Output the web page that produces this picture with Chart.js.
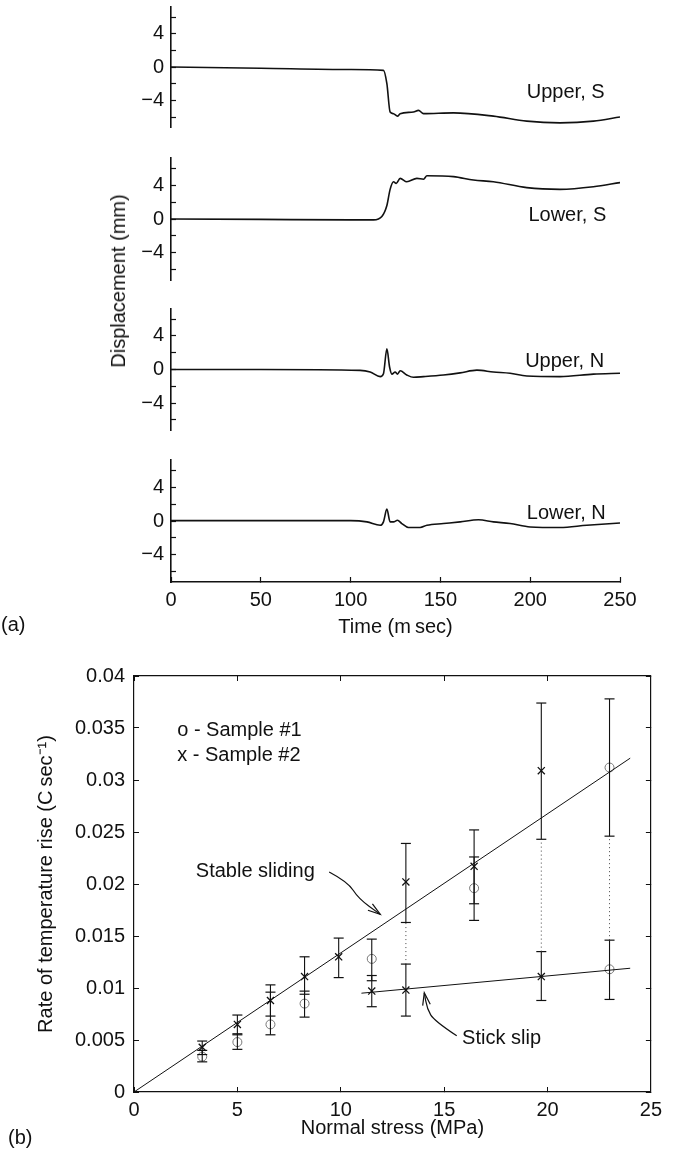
<!DOCTYPE html>
<html>
<head>
<meta charset="utf-8">
<script src="https://cdn.jsdelivr.net/npm/chart.js@4/dist/chart.umd.min.js"></script>
<style>
html,body{margin:0;padding:0;background:#fff;}
#wrap{position:relative;width:673px;height:1151px;overflow:hidden;font-family:"Liberation Sans",Arial,Helvetica,sans-serif;color:#111;}
canvas{position:absolute;left:0;}
.lbl{position:absolute;font-size:20px;line-height:20px;white-space:nowrap;}
#ylabA{left:118px;top:281px;transform:translate(-50%,-50%) rotate(-90deg);}
</style>
</head>
<body>
<div id="wrap">
  <canvas id="a1" width="673" height="137" style="top:0px"></canvas>
  <canvas id="a2" width="673" height="142" style="top:148px"></canvas>
  <canvas id="a3" width="673" height="141" style="top:299px"></canvas>
  <canvas id="a4" width="673" height="200" style="top:450px"></canvas>
  <canvas id="b" width="673" height="501" style="top:650px"></canvas>
  <div class="lbl" id="ylabA">Displacement (mm)</div>
  <div class="lbl" style="left:1px;top:614px;">(a)</div>
  <div class="lbl" style="left:8px;top:1127px;">(b)</div>
</div>
<script>
// ---------- Panel (a): displacement traces ----------
const timeTicks = [0, 50, 100, 150, 200, 250];
const dispTicks = [-6, -4, -2, 0, 2, 4, 6];
const dispLabeled = [-4, 0, 4];

const timeUpperS = [0, 50, 100, 118.3, 120.2, 122.0, 123.9, 126.1, 127.6, 135.0, 137.8, 140.6, 157.3, 179.5, 198.1, 216.6, 235.2, 250];
const dispUpperS = [0, -0.15, -0.3, -0.4, -2.0, -5.4, -5.6, -5.9, -5.6, -5.4, -5.2, -5.6, -5.5, -5.9, -6.5, -6.7, -6.5, -6.0];

const timeLowerS = [0, 50, 100, 112.8, 117.4, 120.2, 122.0, 123.9, 125.4, 127.6, 131.3, 136.9, 140.6, 142.5, 157.3, 168.4, 179.5, 198.1, 216.6, 235.2, 250];
const dispLowerS = [0, -0.05, -0.1, -0.1, 0.3, 1.6, 3.5, 4.4, 4.2, 4.8, 4.4, 4.8, 4.7, 5.1, 5.0, 4.6, 4.4, 3.7, 3.5, 3.8, 4.3];

const timeUpperN = [0, 50, 105.3, 110.9, 116.5, 118.3, 120.2, 121.7, 123.0, 124.8, 126.1, 127.6, 131.3, 135.0, 140.6, 151.7, 161.0, 170.3, 179.5, 188.8, 198.1, 216.6, 235.2, 250];
const dispUpperN = [0, 0, -0.1, -0.3, -0.85, -0.5, 2.45, 0.3, -0.55, -0.3, -0.55, -0.15, -0.65, -0.93, -0.85, -0.65, -0.4, -0.08, -0.3, -0.45, -0.78, -0.85, -0.55, -0.45];

const timeLowerN = [0, 50, 100, 109.1, 116.5, 118.3, 120.2, 122.0, 123.9, 126.1, 128.5, 132.2, 138.7, 142.5, 151.7, 161.0, 171.2, 179.5, 188.8, 200, 216.6, 231.5, 250];
const dispLowerN = [0.05, 0.05, 0.05, -0.1, -0.5, -0.1, 1.4, -0.1, -0.1, 0.08, -0.3, -0.77, -0.77, -0.5, -0.3, -0.1, 0.15, -0.1, -0.3, -0.7, -0.77, -0.5, -0.23];

const traceNames = ['Upper, S', 'Lower, S', 'Upper, N', 'Lower, N'];
const traceLabelX = [198.1, 199, 197.2, 198.1];
const traceLabelY = [-3.0, 0.47, 0.9, 0.94];

// ---------- Panel (b): temperature rise ----------
const stressTicks = [0, 5, 10, 15, 20, 25];
const rateTicks = [0, 0.005, 0.01, 0.015, 0.02, 0.025, 0.03, 0.035, 0.04];

const stress2 = [3.3, 5.0, 6.6, 8.25, 9.9, 11.5, 13.15, 13.15, 16.45, 19.7, 19.7];
const rate2   = [0.0043, 0.0065, 0.0088, 0.0111, 0.0130, 0.0097, 0.0202, 0.0098, 0.0217, 0.0309, 0.0111];
const low2    = [0.0036, 0.0055, 0.0073, 0.0094, 0.0110, 0.0082, 0.0163, 0.0073, 0.0181, 0.0243, 0.0088];
const high2   = [0.0049, 0.0074, 0.0103, 0.0130, 0.0148, 0.0112, 0.0239, 0.0123, 0.0252, 0.0374, 0.0135];

const stress1 = [3.3, 5.0, 6.6, 8.25, 11.5, 16.45, 23.0, 23.0];
const rate1   = [0.0034, 0.0048, 0.0065, 0.0085, 0.0128, 0.0196, 0.0312, 0.0118];
const low1    = [0.0029, 0.0041, 0.0055, 0.0072, 0.0107, 0.0165, 0.0246, 0.0089];
const high1   = [0.0040, 0.0056, 0.0096, 0.0097, 0.0147, 0.0226, 0.0378, 0.0146];

const dottedX      = [13.15, 19.7, 23.0];
const dottedTop    = [0.0163, 0.0243, 0.0246];
const dottedBottom = [0.0123, 0.0135, 0.0146];

const stableFitX = [0, 24];
const stableFitY = [0, 0.0321];
const stickFitX  = [11.0, 24];
const stickFitY  = [0.0095, 0.0119];

const stableArrowX = [9.44, 10.34, 10.86, 11.91];
const stableArrowY = [0.02115, 0.0202, 0.01859, 0.01708];
const stickArrowX  = [15.61, 14.52, 14.18, 14.04];
const stickArrowY  = [0.0054, 0.00684, 0.00799, 0.00954];

const noteTexts = ['o - Sample #1', 'x - Sample #2', 'Stable sliding', 'Stick slip'];
const noteX = [2.09, 2.09, 2.99, 15.87];
const noteY = [0.03477, 0.03239, 0.02122, 0.00515];

// ---------- helpers ----------
const INK = '#111';
const FAMILY = "'Liberation Sans', Arial, Helvetica, sans-serif";
Chart.defaults.font.family = FAMILY;
Chart.defaults.font.size = 20;
Chart.defaults.color = INK;
Chart.defaults.animation = false;

const toPts = (xs, ys) => xs.map((v, i) => ({x: v, y: ys[i]}));
const segs = (xs, lo, hi) => {
  const out = [];
  xs.forEach((v, i) => { out.push({x: v, y: lo[i]}, {x: v, y: hi[i]}, {x: v, y: null}); });
  return out;
};
const caps = (xs, lo, hi) => {
  const out = [];
  xs.forEach((v, i) => { out.push({x: v, y: lo[i]}, {x: v, y: hi[i]}); });
  return out;
};

const annotate = {
  id: 'annotate',
  afterDatasetsDraw(chart, args, opts) {
    const ctx = chart.ctx, xs = chart.scales.x, ys = chart.scales.y;
    ctx.save();
    (opts.arrows || []).forEach(a => {
      const p = a.xs.map((v, i) => [xs.getPixelForValue(v), ys.getPixelForValue(a.ys[i])]);
      ctx.strokeStyle = INK; ctx.lineWidth = 1.2;
      ctx.beginPath(); ctx.moveTo(p[0][0], p[0][1]);
      for (let i = 1; i < p.length - 1; i++) {
        const mx = (p[i][0] + p[i + 1][0]) / 2, my = (p[i][1] + p[i + 1][1]) / 2;
        ctx.quadraticCurveTo(p[i][0], p[i][1], mx, my);
      }
      const L = p[p.length - 1], P = p[p.length - 2];
      ctx.lineTo(L[0], L[1]); ctx.stroke();
      const ang = Math.atan2(L[1] - P[1], L[0] - P[0]);
      const hl = 13, ha = 0.3;
      ctx.beginPath();
      ctx.moveTo(L[0] - hl * Math.cos(ang - ha), L[1] - hl * Math.sin(ang - ha));
      ctx.lineTo(L[0], L[1]);
      ctx.lineTo(L[0] - hl * Math.cos(ang + ha), L[1] - hl * Math.sin(ang + ha));
      ctx.stroke();
    });
    ctx.font = '20px ' + FAMILY; ctx.fillStyle = INK;
    ctx.textAlign = 'left'; ctx.textBaseline = 'middle';
    (opts.texts || []).forEach(t => {
      ctx.fillText(t.text, xs.getPixelForValue(t.x), ys.getPixelForValue(t.y));
    });
    ctx.restore();
  }
};

const minusFmt = v => (v < 0 ? '\u2212' + Math.abs(v) : String(v));

function dispChart(id, times, disps, k, showX, padTop, padBottom) {
  return new Chart(document.getElementById(id), {
    type: 'line',
    data: {datasets: [{
      data: toPts(times, disps), borderColor: INK, borderWidth: 1.6,
      pointRadius: 0, cubicInterpolationMode: 'monotone', fill: false
    }]},
    options: {
      responsive: false, animation: false, events: [],
      layout: {padding: {left: 0, right: 53, top: padTop, bottom: padBottom}},
      plugins: {
        legend: {display: false}, tooltip: {enabled: false},
        annotate: {texts: [{text: traceNames[k], x: traceLabelX[k], y: traceLabelY[k]}]}
      },
      scales: {
        x: {
          type: 'linear', min: 0, max: 250, display: showX,
          afterBuildTicks: s => { s.ticks = timeTicks.map(v => ({value: v})); },
          afterFit: s => { s.height = showX ? 68 : 0; s.paddingLeft = 0; s.paddingRight = 0; },
          ticks: {padding: 11, maxRotation: 0, autoSkip: false},
          grid: {drawOnChartArea: false, tickLength: -5, color: INK, tickWidth: 1.2},
          border: {color: INK, width: 1.6},
          title: {display: true, text: 'Time (m\u2009sec)', padding: {top: 0, bottom: 11}}
        },
        y: {
          type: 'linear', min: -7.2, max: 7.2,
          afterBuildTicks: s => { s.ticks = dispTicks.map(v => ({value: v})); },
          afterFit: s => { s.width = 171; s.paddingTop = 0; s.paddingBottom = 0; },
          ticks: {padding: 12, autoSkip: false, callback: v => (dispLabeled.includes(v) ? minusFmt(v) : '')},
          grid: {drawOnChartArea: false, tickLength: -5, color: INK, tickWidth: 1.2},
          border: {color: INK, width: 1.6}
        }
      }
    },
    plugins: [annotate]
  });
}

dispChart('a1', timeUpperS, dispUpperS, 0, false, 7, 10);
dispChart('a2', timeLowerS, dispLowerS, 1, false, 10, 10);
dispChart('a3', timeUpperN, dispUpperN, 2, false, 10, 10);
dispChart('a4', timeLowerN, dispLowerN, 3, true, 10, 0);

const rateFmt = v => String(+Number(v).toFixed(3));
const inGrid = {drawOnChartArea: false, tickLength: -5, color: INK, tickWidth: 1};
const frame = {color: INK, width: 1.2};

new Chart(document.getElementById('b'), {
  type: 'scatter',
  data: {datasets: [
    {type: 'line', data: toPts(stableFitX, stableFitY), borderColor: INK, borderWidth: 1, pointRadius: 0},
    {type: 'line', data: toPts(stickFitX, stickFitY), borderColor: INK, borderWidth: 1, pointRadius: 0},
    {type: 'line', data: segs(dottedX, dottedBottom, dottedTop), borderColor: '#444', borderWidth: 1, borderDash: [1, 3], pointRadius: 0, spanGaps: false},
    {type: 'line', data: segs(stress2, low2, high2), borderColor: INK, borderWidth: 1.1, pointRadius: 0, spanGaps: false},
    {type: 'line', data: segs(stress1, low1, high1), borderColor: INK, borderWidth: 1.1, pointRadius: 0, spanGaps: false},
    {data: caps(stress2, low2, high2), pointStyle: 'line', pointRadius: 5, borderColor: INK, pointBorderColor: INK, pointBorderWidth: 1.2},
    {data: caps(stress1, low1, high1), pointStyle: 'line', pointRadius: 5, borderColor: INK, pointBorderColor: INK, pointBorderWidth: 1.2},
    {data: toPts(stress2, rate2), pointStyle: 'crossRot', pointRadius: 5, borderColor: INK, pointBorderColor: INK, pointBorderWidth: 1.3},
    {data: toPts(stress1, rate1), pointStyle: 'circle', pointRadius: 4.5, borderColor: '#777', pointBorderColor: '#777', pointBackgroundColor: 'rgba(0,0,0,0)', backgroundColor: 'rgba(0,0,0,0)', pointBorderWidth: 1}
  ]},
  options: {
    responsive: false, animation: false, events: [],
    layout: {padding: {left: 0, right: 12, top: 23, bottom: 0}},
    plugins: {
      legend: {display: false}, tooltip: {enabled: false},
      annotate: {
        texts: noteTexts.map((t, i) => ({text: t, x: noteX[i], y: noteY[i]})),
        arrows: [{xs: stableArrowX, ys: stableArrowY}, {xs: stickArrowX, ys: stickArrowY}]
      }
    },
    scales: {
      x: {
        type: 'linear', position: 'bottom', min: 0, max: 25,
        afterBuildTicks: s => { s.ticks = stressTicks.map(v => ({value: v})); },
        afterFit: s => { s.height = 59; },
        ticks: {padding: 11, maxRotation: 0, autoSkip: false},
        grid: inGrid, border: frame,
        title: {display: true, text: 'Normal stress (MPa)', padding: {top: 0, bottom: 11}}
      },
      y: {
        type: 'linear', position: 'left', min: 0, max: 0.04,
        afterBuildTicks: s => { s.ticks = rateTicks.map(v => ({value: v})); },
        afterFit: s => { s.width = 134; },
        ticks: {padding: 14, autoSkip: false, callback: rateFmt},
        grid: inGrid, border: frame,
        title: {display: true, text: 'Rate of temperature rise (C\u2009sec\u207B\u00B9)', padding: {top: 34, bottom: 0}}
      },
      x2: {
        type: 'linear', position: 'top', min: 0, max: 25,
        afterBuildTicks: s => { s.ticks = stressTicks.map(v => ({value: v})); },
        afterFit: s => { s.height = 0; },
        ticks: {display: false},
        grid: inGrid, border: frame
      },
      y2: {
        type: 'linear', position: 'right', min: 0, max: 0.04,
        afterBuildTicks: s => { s.ticks = rateTicks.map(v => ({value: v})); },
        afterFit: s => { s.width = 0; },
        ticks: {display: false},
        grid: inGrid, border: frame
      }
    }
  },
  plugins: [annotate]
});
</script>
</body>
</html>
